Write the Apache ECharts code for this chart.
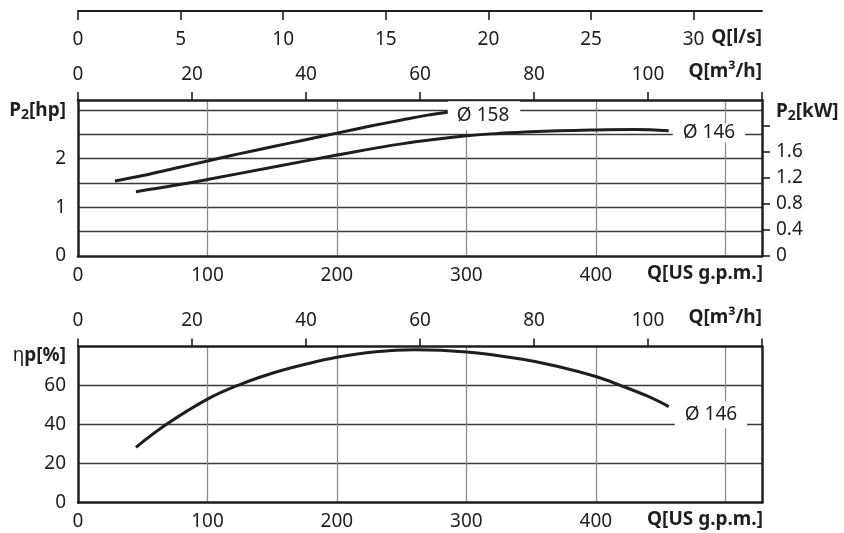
<!DOCTYPE html>
<html><head><meta charset="utf-8">
<script src="https://cdn.jsdelivr.net/npm/echarts@6/dist/echarts.min.js"></script>
<style>html,body{margin:0;padding:0;background:#fff}#c{width:844px;height:533px}</style>
</head><body><div id="c"></div>
<script>
// ---- data (flow in US gpm, power in hp, efficiency in %) ----
const flow158  = [28.5, 50, 75, 100, 125, 150, 175, 200, 225, 250, 270, 285.7];
const power158 = [1.54, 1.65, 1.80, 1.95, 2.10, 2.24, 2.38, 2.52, 2.66, 2.79, 2.89, 2.95];

const flow146  = [44.75, 75, 100, 150, 200, 250, 300, 325, 350, 400, 430, 456.3];
const power146 = [1.32, 1.45, 1.57, 1.82, 2.07, 2.30, 2.465, 2.515, 2.55, 2.585, 2.595, 2.57];

const flowEta = [44.75, 68.4, 100, 125, 150, 175, 200, 230, 260, 300, 341, 370, 400, 418, 440, 456.3];
const eta146  = [28.3, 40.1, 53, 60.5, 66.3, 70.8, 74.5, 77.3, 78.3, 77.2, 73.7, 69.9, 64.6, 60.3, 54.5, 49.2];

// ---- tick labels ----
const gpmLabels = [0, 100, 200, 300, 400];
const m3hTicks  = [0, 20, 40, 60, 80, 100, 120];
const m3hLabels = [0, 20, 40, 60, 80, 100];
const lsTicks   = [0, 5, 10, 15, 20, 25, 30];
const hpLabels  = [0, 1, 2];
const kwTicks   = [0, 0.4, 0.8, 1.2, 1.6, 2.0];
const kwLabels  = [0, 0.4, 0.8, 1.2, 1.6];
const etaLabels = [0, 20, 40, 60];
const curveNames = ['Ø 158', 'Ø 146', 'Ø 146'];

// ---- axis extents (unit conversions) ----
const M3H_MAX = 120;
const GPM_MAX = M3H_MAX * 4.40287;
const LS_MAX = M3H_MAX / 3.6;
const HP_MAX = 3.2;
const KW_MAX = HP_MAX * 0.745700;

const FONT = '"Noto Sans", "DejaVu Sans", sans-serif';
const INK = '#1e1e1e';
const tickFont = {fontSize: 19, color: INK, fontFamily: FONT};
const thick = {show: true, onZero: false, lineStyle: {color: INK, width: 2.5}};

function zip(a, b) { return a.map((v, i) => [v, b[i]]); }

function gpmAxis(g) {
  return {type: 'value', gridIndex: g, position: 'bottom', min: 0, max: GPM_MAX, interval: 100,
    axisLine: thick, axisTick: {show: false},
    splitLine: {show: true, showMinLine: false, showMaxLine: false, lineStyle: {color: '#8c8c8c', width: 1.3}},
    axisLabel: Object.assign({customValues: gpmLabels, margin: 10}, tickFont)};
}
function m3hAxis(g) {
  return {type: 'value', gridIndex: g, position: 'top', min: 0, max: M3H_MAX, interval: 20,
    axisLine: thick,
    axisTick: {show: true, length: 8, customValues: m3hTicks, lineStyle: {color: INK, width: 1.6}},
    splitLine: {show: false},
    axisLabel: Object.assign({customValues: m3hLabels, margin: 16}, tickFont)};
}

const option = {
  animation: false,
  backgroundColor: '#fff',
  grid: [
    {left: 78, top: 100, width: 684, height: 156},
    {left: 78, top: 346.5, width: 684, height: 156}
  ],
  xAxis: [
    gpmAxis(0),
    m3hAxis(0),
    {type: 'value', gridIndex: 0, position: 'top', offset: 89, min: 0, max: LS_MAX, interval: 5,
     axisLine: {show: true, onZero: false, lineStyle: {color: INK, width: 1.8}},
     axisTick: {show: true, inside: true, length: 9, customValues: lsTicks, lineStyle: {color: INK, width: 1.6}},
     splitLine: {show: false},
     axisLabel: Object.assign({inside: true, customValues: lsTicks, margin: 19}, tickFont)},
    gpmAxis(1),
    m3hAxis(1)
  ],
  yAxis: [
    {type: 'value', gridIndex: 0, position: 'left', min: 0, max: HP_MAX, interval: 0.5,
     axisLine: thick, axisTick: {show: false},
     splitLine: {show: true, showMinLine: false, showMaxLine: false, lineStyle: {color: '#3a3a3a', width: 1.3}},
     axisLabel: Object.assign({customValues: hpLabels, margin: 12}, tickFont)},
    {type: 'value', gridIndex: 0, position: 'right', min: 0, max: KW_MAX, interval: 0.4,
     axisLine: thick,
     axisTick: {show: true, length: 8, customValues: kwTicks, lineStyle: {color: INK, width: 1.6}},
     splitLine: {show: false},
     axisLabel: Object.assign({customValues: kwLabels, margin: 14}, tickFont)},
    {type: 'value', gridIndex: 1, position: 'left', min: 0, max: 80, interval: 20,
     axisLine: thick, axisTick: {show: false},
     splitLine: {show: true, showMinLine: false, showMaxLine: false, lineStyle: {color: '#3a3a3a', width: 1.3}},
     axisLabel: Object.assign({customValues: etaLabels, margin: 12}, tickFont)},
    {type: 'value', gridIndex: 1, position: 'right', min: 0, max: 80, interval: 20,
     axisLine: thick, axisTick: {show: false}, splitLine: {show: false}, axisLabel: {show: false}}
  ],
  series: [
    {type: 'line', xAxisIndex: 0, yAxisIndex: 0, data: zip(flow158, power158), smooth: 0.4,
     showSymbol: false, symbol: 'none', lineStyle: {color: INK, width: 3},
     endLabel: {show: true, formatter: curveNames[0], fontSize: 19, color: INK, fontFamily: FONT,
       backgroundColor: '#fff', padding: [7, 11, 3, 9], distance: 0, offset: [0, 3.5]}},
    {type: 'line', xAxisIndex: 0, yAxisIndex: 0, data: zip(flow146, power146), smooth: 0.4,
     showSymbol: false, symbol: 'none', lineStyle: {color: INK, width: 3},
     endLabel: {show: true, formatter: curveNames[1], fontSize: 19, color: INK, fontFamily: FONT,
       backgroundColor: '#fff', padding: [0, 10, 0, 10], distance: 4, offset: [0, 2]}},
    {type: 'line', xAxisIndex: 3, yAxisIndex: 2, data: zip(flowEta, eta146), smooth: 0.4,
     showSymbol: false, symbol: 'none', lineStyle: {color: INK, width: 3},
     endLabel: {show: true, formatter: curveNames[2], fontSize: 19, color: INK, fontFamily: FONT,
       backgroundColor: '#fff', padding: [4, 10, 4, 10], distance: 6, offset: [0, 8.3]}}
  ],
  graphic: [
    {type: 'text', right: 844 - 762, top: 28, style: {text: 'Q[l/s]', font: 'bold 19px ' + FONT, fill: INK}},
    {type: 'text', right: 844 - 762, top: 62, style: {text: 'Q[m³/h]', font: 'bold 19px ' + FONT, fill: INK}},
    {type: 'text', right: 844 - 763, top: 264, style: {text: 'Q[US g.p.m.]', font: 'bold 19px ' + FONT, fill: INK}},
    {type: 'text', right: 844 - 762, top: 308, style: {text: 'Q[m³/h]', font: 'bold 19px ' + FONT, fill: INK}},
    {type: 'text', right: 844 - 763, top: 510, style: {text: 'Q[US g.p.m.]', font: 'bold 19px ' + FONT, fill: INK}},
    {type: 'text', right: 844 - 66, top: 101, style: {
      text: '{b|P}{s|2}{b|[hp]}',
      rich: {b: {font: 'bold 19px ' + FONT, fill: INK}, s: {font: 'bold 14px ' + FONT, fill: INK, padding: [10, 0, 0, 0]}}}},
    {type: 'text', left: 776, top: 102, style: {
      text: '{b|P}{s|2}{b|[kW]}',
      rich: {b: {font: 'bold 19px ' + FONT, fill: INK}, s: {font: 'bold 14px ' + FONT, fill: INK, padding: [10, 0, 0, 0]}}}},
    {type: 'text', right: 844 - 66, top: 346, style: {
      text: '{r|η}{b|p[%]}',
      rich: {r: {font: '19px ' + FONT, fill: INK}, b: {font: 'bold 19px ' + FONT, fill: INK}}}}
  ]
};
echarts.init(document.getElementById('c'), null, {renderer: 'canvas'}).setOption(option);
</script>
</body></html>
